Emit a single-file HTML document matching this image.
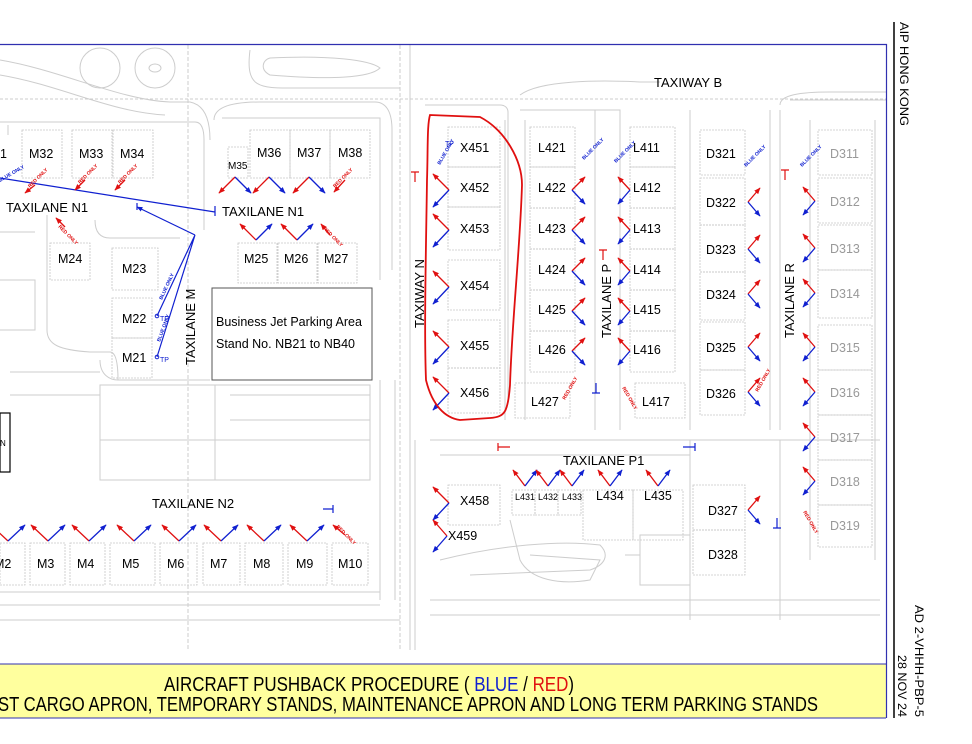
<!DOCTYPE html>
<html><head><meta charset="utf-8"><style>
html,body{margin:0;padding:0;background:#fff;}
svg{display:block;font-family:"Liberation Sans",sans-serif;}
.g{fill:none;stroke:#cdcdcd;stroke-width:1}
.s{fill:none;stroke:#c6c6c6;stroke-width:0.8;stroke-dasharray:2 1}
.t{font-size:12.5px;fill:#000}
.tg{font-size:12.5px;fill:#999}
.r{stroke:#e01010;stroke-width:1.3;marker-end:url(#ar)}
.b{stroke:#1020d0;stroke-width:1.3;marker-end:url(#ab)}
.ro{font-size:5px;fill:#e01010;font-weight:bold}
.bo{font-size:5px;fill:#1020d0;font-weight:bold}
</style></head><body>
<svg width="972" height="744" viewBox="0 0 972 744" xmlns="http://www.w3.org/2000/svg">
<defs>
<marker id="ar" viewBox="0 0 10 10" refX="9" refY="5" markerWidth="5" markerHeight="5" orient="auto"><path d="M0,1L10,5L0,9z" fill="#e01010"/></marker>
<marker id="ab" viewBox="0 0 10 10" refX="9" refY="5" markerWidth="5" markerHeight="5" orient="auto"><path d="M0,1L10,5L0,9z" fill="#1020d0"/></marker>
<clipPath id="fr"><rect x="0" y="45" width="886" height="619"/></clipPath>
</defs>

<!-- background roads -->
<g class="g" clip-path="url(#fr)">
<path d="M0,60 C60,70 120,100 170,102 L190,102 C205,105 210,120 210,140"/>
<path d="M0,75 C60,85 110,112 165,115"/>
<circle cx="100" cy="68" r="20"/><circle cx="155" cy="68" r="20"/><ellipse cx="155" cy="68" rx="6" ry="4"/>
<path d="M270,58 C330,55 370,60 380,68 C370,78 330,80 270,75 C260,70 262,60 270,58z"/>
<path d="M250,50 C245,90 260,88 300,88 L400,88"/>
<path d="M0,99 L886,99" stroke-dasharray="3 2"/>
<path d="M188,45 L188,650" stroke-dasharray="4 2"/>
<path d="M410,45 L410,650"/><path d="M400,45 L400,650" stroke-dasharray="4 2"/>
<path d="M214,120 C214,108 230,102 260,102 L375,102 C385,102 392,110 392,130 L392,270"/>
<path d="M8,125 L8,135 M0,122 L195,122 C200,122 204,126 204,140 L204,230"/>
<path d="M222,118 L380,118 L380,280"/>
<path d="M425,105 L500,105 C505,105 508,108 508,112 L508,400"/>
<path d="M505,120 L505,420"/><path d="M525,120 L525,420"/>
<path d="M520,110 L620,110 L620,430"/><path d="M595,110 L595,430"/>
<path d="M690,110 L690,430 M770,110 L770,430 M780,110 L780,430"/>
<path d="M520,95 C540,80 600,80 640,82 L660,82"/>
<path d="M780,105 C780,95 800,92 830,92 L886,92"/>
<path d="M790,100 L886,100"/>
<path d="M810,120 L810,560 M875,120 L875,560"/>
<path d="M415,440 L415,650 M430,440 L880,440"/>
<path d="M440,455 L690,455 M690,440 L690,620 M780,440 L780,620"/>
<path d="M0,592 L380,592 M0,605 L380,605 M0,620 L400,620"/>
<path d="M380,380 L380,600 M395,380 L395,600"/>
<path d="M430,600 L880,600 M430,615 L880,615"/>
<path d="M510,520 L520,560 C530,580 560,585 590,580 L600,560 L530,555"/>
<path d="M440,560 C500,545 560,540 600,545 C610,555 605,565 590,570 L470,575"/>
<path d="M640,535 L690,535 L690,585 L640,585z M625,555 L640,555"/>
<path d="M100,385 L370,385 L370,480 L100,480z M100,440 L370,440 M215,385 L215,480"/>
<path d="M10,372 L100,372 M10,395 L100,395 M100,360 C100,375 110,380 118,380 L210,380"/>
<path d="M0,280 L35,280 L35,330 L0,330 M0,232 L35,232"/>
<path d="M95,220 C95,232 100,238 110,238 L180,238"/>
<path d="M47,215 L47,330 C47,345 60,350 90,352 L110,352 C115,352 118,360 118,380"/>
<path d="M230,420 L370,420 M230,395 L370,395"/>
</g>

<!-- stand boxes -->
<g class="s">
<rect x="22" y="130" width="40" height="48"/><rect x="72" y="130" width="40" height="48"/><rect x="113" y="130" width="40" height="48"/>
<rect x="228" y="147" width="20" height="31"/><rect x="250" y="130" width="40" height="48"/><rect x="290" y="130" width="40" height="48"/><rect x="330" y="130" width="40" height="48"/>
<rect x="50" y="243" width="40" height="37"/><rect x="112" y="248" width="46" height="42"/>
<rect x="238" y="243" width="39" height="40"/><rect x="278" y="243" width="39" height="40"/><rect x="318" y="243" width="39" height="40"/>
<rect x="112" y="298" width="40" height="40"/><rect x="112" y="338" width="40" height="40"/>
<rect x="448" y="127" width="52" height="40"/><rect x="448" y="167" width="52" height="40"/><rect x="448" y="207" width="52" height="43"/><rect x="448" y="260" width="52" height="50"/><rect x="448" y="320" width="52" height="48"/><rect x="448" y="368" width="52" height="45"/>
<rect x="530" y="127" width="45" height="40"/><rect x="530" y="167" width="45" height="41"/><rect x="530" y="208" width="45" height="41"/><rect x="530" y="249" width="45" height="41"/><rect x="530" y="290" width="45" height="41"/><rect x="530" y="331" width="45" height="41"/>
<rect x="630" y="127" width="45" height="40"/><rect x="630" y="167" width="45" height="41"/><rect x="630" y="208" width="45" height="41"/><rect x="630" y="249" width="45" height="41"/><rect x="630" y="290" width="45" height="41"/><rect x="630" y="331" width="45" height="41"/>
<rect x="515" y="383" width="55" height="35"/><rect x="635" y="383" width="50" height="35"/>
<rect x="700" y="130" width="45" height="45"/><rect x="700" y="178" width="45" height="47"/><rect x="700" y="225" width="45" height="47"/><rect x="700" y="272" width="45" height="48"/><rect x="700" y="322" width="45" height="48"/><rect x="700" y="370" width="45" height="45"/>
<rect x="693" y="485" width="52" height="45"/><rect x="693" y="530" width="52" height="45"/>
<rect x="818" y="130" width="54" height="45"/><rect x="818" y="178" width="54" height="45"/><rect x="818" y="225" width="54" height="45"/><rect x="818" y="270" width="54" height="48"/><rect x="818" y="325" width="54" height="45"/><rect x="818" y="370" width="54" height="45"/><rect x="818" y="415" width="54" height="45"/><rect x="818" y="460" width="54" height="45"/><rect x="818" y="505" width="54" height="42"/>
<rect x="0" y="543" width="25" height="42"/><rect x="30" y="543" width="35" height="42"/><rect x="70" y="543" width="35" height="42"/><rect x="110" y="543" width="45" height="42"/><rect x="160" y="543" width="37" height="42"/><rect x="203" y="543" width="37" height="42"/><rect x="245" y="543" width="38" height="42"/><rect x="288" y="543" width="39" height="42"/><rect x="332" y="543" width="36" height="42"/>
<rect x="512" y="490" width="23" height="25"/><rect x="535" y="490" width="23" height="25"/><rect x="558" y="490" width="23" height="25"/><rect x="583" y="490" width="50" height="50"/><rect x="633" y="490" width="50" height="50"/>
<rect x="448" y="485" width="52" height="40"/>
</g>

<!-- business jet box -->
<rect x="212" y="288" width="160" height="92" fill="#fff" stroke="#555" stroke-width="1"/>
<rect x="0" y="413" width="10" height="59" fill="none" stroke="#000" stroke-width="1.2"/>
<text x="0" y="446" font-size="8">N</text>

<!-- blue route lines -->
<g stroke="#1020d0" stroke-width="1.2" fill="none">
<path d="M0,178 L215,212 M215,206 L215,216"/>
<path d="M195,235 L137,207" marker-end="url(#ab)"/>
<path d="M137,203 L137,210"/>
<path d="M195,235 L157,316 M195,235 L157,357"/>
</g>
<circle cx="157" cy="316" r="1.8" fill="none" stroke="#1020d0"/><circle cx="157" cy="357" r="1.8" fill="none" stroke="#1020d0"/>
<text x="160" y="321" font-size="7" fill="#1020d0">TP</text><text x="160" y="362" font-size="7" fill="#1020d0">TP</text>
<text x="445" y="146" font-size="7" fill="#1020d0">TP</text>

<!-- V arrows -->
<g>
<line x1="8" y1="541" x2="-9" y2="525" class="r"/><line x1="8" y1="541" x2="25" y2="525" class="b"/>
<line x1="48" y1="541" x2="31" y2="525" class="r"/><line x1="48" y1="541" x2="65" y2="525" class="b"/>
<line x1="89" y1="541" x2="72" y2="525" class="r"/><line x1="89" y1="541" x2="106" y2="525" class="b"/>
<line x1="134" y1="541" x2="117" y2="525" class="r"/><line x1="134" y1="541" x2="151" y2="525" class="b"/>
<line x1="179" y1="541" x2="162" y2="525" class="r"/><line x1="179" y1="541" x2="196" y2="525" class="b"/>
<line x1="221" y1="541" x2="204" y2="525" class="r"/><line x1="221" y1="541" x2="238" y2="525" class="b"/>
<line x1="264" y1="541" x2="247" y2="525" class="r"/><line x1="264" y1="541" x2="281" y2="525" class="b"/>
<line x1="307" y1="541" x2="290" y2="525" class="r"/><line x1="307" y1="541" x2="324" y2="525" class="b"/>
<line x1="345" y1="535" x2="333" y2="525" class="r"/>
<line x1="235" y1="177" x2="219" y2="193" class="r"/><line x1="235" y1="177" x2="251" y2="193" class="b"/>
<line x1="269" y1="177" x2="253" y2="193" class="r"/><line x1="269" y1="177" x2="285" y2="193" class="b"/>
<line x1="309" y1="177" x2="293" y2="193" class="r"/><line x1="309" y1="177" x2="325" y2="193" class="b"/>
<line x1="345" y1="180" x2="334" y2="192" class="r"/>
<line x1="256" y1="240" x2="240" y2="224" class="r"/><line x1="256" y1="240" x2="272" y2="224" class="b"/>
<line x1="297" y1="240" x2="281" y2="224" class="r"/><line x1="297" y1="240" x2="313" y2="224" class="b"/>
<line x1="330" y1="235" x2="321" y2="224" class="r"/>
<line x1="35" y1="185" x2="25" y2="193" class="r"/><line x1="85" y1="180" x2="75" y2="190" class="r"/><line x1="125" y1="180" x2="115" y2="190" class="r"/>
<line x1="65" y1="227" x2="56" y2="218" class="r"/>
<line x1="449" y1="190" x2="433" y2="174" class="r"/><line x1="449" y1="190" x2="433" y2="207" class="b"/>
<line x1="449" y1="230" x2="433" y2="214" class="r"/><line x1="449" y1="230" x2="433" y2="247" class="b"/>
<line x1="449" y1="287" x2="433" y2="271" class="r"/><line x1="449" y1="287" x2="433" y2="304" class="b"/>
<line x1="449" y1="347" x2="433" y2="331" class="r"/><line x1="449" y1="347" x2="433" y2="364" class="b"/>
<line x1="449" y1="393" x2="433" y2="377" class="r"/><line x1="449" y1="393" x2="433" y2="410" class="b"/>
<line x1="449" y1="503" x2="433" y2="487" class="r"/><line x1="449" y1="503" x2="433" y2="520" class="b"/>
<line x1="447" y1="536" x2="433" y2="520" class="r"/><line x1="447" y1="536" x2="433" y2="552" class="b"/>
<line x1="572" y1="190" x2="585" y2="177" class="r"/><line x1="572" y1="190" x2="585" y2="204" class="b"/>
<line x1="572" y1="230" x2="585" y2="217" class="r"/><line x1="572" y1="230" x2="585" y2="244" class="b"/>
<line x1="572" y1="271" x2="585" y2="258" class="r"/><line x1="572" y1="271" x2="585" y2="285" class="b"/>
<line x1="572" y1="311" x2="585" y2="298" class="r"/><line x1="572" y1="311" x2="585" y2="325" class="b"/>
<line x1="572" y1="351" x2="585" y2="338" class="r"/><line x1="572" y1="351" x2="585" y2="365" class="b"/>
<line x1="630" y1="190" x2="618" y2="177" class="r"/><line x1="630" y1="190" x2="618" y2="204" class="b"/>
<line x1="630" y1="230" x2="618" y2="217" class="r"/><line x1="630" y1="230" x2="618" y2="244" class="b"/>
<line x1="630" y1="271" x2="618" y2="258" class="r"/><line x1="630" y1="271" x2="618" y2="285" class="b"/>
<line x1="630" y1="311" x2="618" y2="298" class="r"/><line x1="630" y1="311" x2="618" y2="325" class="b"/>
<line x1="630" y1="351" x2="618" y2="338" class="r"/><line x1="630" y1="351" x2="618" y2="365" class="b"/>
<line x1="748" y1="202" x2="760" y2="188" class="r"/><line x1="748" y1="202" x2="760" y2="216" class="b"/>
<line x1="748" y1="249" x2="760" y2="235" class="r"/><line x1="748" y1="249" x2="760" y2="263" class="b"/>
<line x1="748" y1="294" x2="760" y2="280" class="r"/><line x1="748" y1="294" x2="760" y2="308" class="b"/>
<line x1="748" y1="347" x2="760" y2="333" class="r"/><line x1="748" y1="347" x2="760" y2="361" class="b"/>
<line x1="748" y1="392" x2="760" y2="378" class="r"/><line x1="748" y1="392" x2="760" y2="406" class="b"/>
<line x1="748" y1="510" x2="760" y2="496" class="r"/><line x1="748" y1="510" x2="760" y2="524" class="b"/>
<line x1="815" y1="201" x2="803" y2="187" class="r"/><line x1="815" y1="201" x2="803" y2="215" class="b"/>
<line x1="815" y1="248" x2="803" y2="234" class="r"/><line x1="815" y1="248" x2="803" y2="262" class="b"/>
<line x1="815" y1="293" x2="803" y2="279" class="r"/><line x1="815" y1="293" x2="803" y2="307" class="b"/>
<line x1="815" y1="347" x2="803" y2="333" class="r"/><line x1="815" y1="347" x2="803" y2="361" class="b"/>
<line x1="815" y1="392" x2="803" y2="378" class="r"/><line x1="815" y1="392" x2="803" y2="406" class="b"/>
<line x1="815" y1="437" x2="803" y2="423" class="r"/><line x1="815" y1="437" x2="803" y2="451" class="b"/>
<line x1="815" y1="481" x2="803" y2="467" class="r"/><line x1="815" y1="481" x2="803" y2="495" class="b"/>
<line x1="525" y1="486" x2="513" y2="470" class="r"/><line x1="525" y1="486" x2="537" y2="470" class="b"/>
<line x1="548" y1="486" x2="536" y2="470" class="r"/><line x1="548" y1="486" x2="560" y2="470" class="b"/>
<line x1="572" y1="486" x2="560" y2="470" class="r"/><line x1="572" y1="486" x2="584" y2="470" class="b"/>
<line x1="610" y1="486" x2="598" y2="470" class="r"/><line x1="610" y1="486" x2="622" y2="470" class="b"/>
<line x1="658" y1="486" x2="646" y2="470" class="r"/><line x1="658" y1="486" x2="670" y2="470" class="b"/>
</g>

<g>
<text transform="translate(30,188) rotate(-45)" class="ro">RED ONLY</text>
<text transform="translate(80,184) rotate(-45)" class="ro">RED ONLY</text>
<text transform="translate(120,184) rotate(-45)" class="ro">RED ONLY</text>
<text transform="translate(58,227) rotate(45)" class="ro">RED ONLY</text>
<text transform="translate(335,188) rotate(-45)" class="ro">RED ONLY</text>
<text transform="translate(323,229) rotate(45)" class="ro">RED ONLY</text>
<text transform="translate(336,527) rotate(45)" class="ro">RED ONLY</text>
<text transform="translate(565,400) rotate(-60)" class="ro">RED ONLY</text>
<text transform="translate(622,388) rotate(60)" class="ro">RED ONLY</text>
<text transform="translate(758,392) rotate(-60)" class="ro">RED ONLY</text>
<text transform="translate(803,512) rotate(60)" class="ro">RED ONLY</text>
<text transform="translate(0,182) rotate(-30)" class="bo">BLUE ONLY</text>
<text transform="translate(440,165) rotate(-60)" class="bo">BLUE ONLY</text>
<text transform="translate(584,160) rotate(-45)" class="bo">BLUE ONLY</text>
<text transform="translate(616,163) rotate(-45)" class="bo">BLUE ONLY</text>
<text transform="translate(746,167) rotate(-45)" class="bo">BLUE ONLY</text>
<text transform="translate(802,167) rotate(-45)" class="bo">BLUE ONLY</text>
<text transform="translate(162,300) rotate(-65)" class="bo">BLUE ONLY</text>
<text transform="translate(160,342) rotate(-70)" class="bo">BLUE ONLY</text>
</g>

<g stroke-width="1.2">
<path d="M415,172 L415,182 M411,172 L419,172" stroke="#e01010"/>
<path d="M785,170 L785,180 M781,170 L789,170" stroke="#e01010"/>
<path d="M603,250 L603,260 M599,250 L607,250" stroke="#e01010"/>
<path d="M596,383 L596,393 M592,393 L600,393" stroke="#1020d0"/>
<path d="M498,447 L510,447 M498,443 L498,451" stroke="#e01010"/>
<path d="M683,447 L695,447 M695,443 L695,451" stroke="#1020d0"/>
<path d="M777,518 L777,528 M773,528 L781,528" stroke="#1020d0"/>
<path d="M323,509 L333,509 M333,505 L333,513" stroke="#1020d0"/>
</g>

<path d="M430,115 L480,117 C505,130 522,160 522,185 C520,250 512,320 510,385 C508,412 505,417 490,418 L460,420 C445,418 432,405 426,380 C424,330 426,250 427,180 C428,150 427,125 430,115z" fill="none" stroke="#e01010" stroke-width="1.8"/>

<g class="t">
<text x="654" y="87" font-size="13">TAXIWAY B</text>
<text x="-7" y="158">31</text>
<text x="29" y="158">M32</text><text x="79" y="158">M33</text><text x="120" y="158">M34</text>
<text x="228" y="169" font-size="10">M35</text>
<text x="257" y="157">M36</text><text x="297" y="157">M37</text><text x="338" y="157">M38</text>
<text x="6" y="212" font-size="13">TAXILANE N1</text>
<text x="222" y="216" font-size="13">TAXILANE N1</text>
<text x="58" y="263">M24</text><text x="122" y="273">M23</text>
<text x="244" y="263">M25</text><text x="284" y="263">M26</text><text x="324" y="263">M27</text>
<text x="122" y="323">M22</text><text x="122" y="362">M21</text>
<text transform="translate(195,365) rotate(-90)" font-size="13">TAXILANE M</text>
<text x="216" y="326" font-size="12.5">Business Jet Parking Area</text>
<text x="216" y="348" font-size="12.5">Stand No. NB21 to NB40</text>
<text transform="translate(424,328) rotate(-90)" font-size="13">TAXIWAY N</text>
<text x="460" y="152">X451</text><text x="460" y="192">X452</text><text x="460" y="233">X453</text><text x="460" y="290">X454</text><text x="460" y="350">X455</text><text x="460" y="397">X456</text>
<text x="538" y="152">L421</text><text x="538" y="192">L422</text><text x="538" y="233">L423</text><text x="538" y="274">L424</text><text x="538" y="314">L425</text><text x="538" y="354">L426</text><text x="531" y="406">L427</text>
<text transform="translate(611,338) rotate(-90)" font-size="13">TAXILANE P</text>
<text x="633" y="152">L411</text><text x="633" y="192">L412</text><text x="633" y="233">L413</text><text x="633" y="274">L414</text><text x="633" y="314">L415</text><text x="633" y="354">L416</text><text x="642" y="406">L417</text>
<text x="706" y="158">D321</text><text x="706" y="207">D322</text><text x="706" y="254">D323</text><text x="706" y="299">D324</text><text x="706" y="352">D325</text><text x="706" y="398">D326</text>
<text transform="translate(794,338) rotate(-90)" font-size="13">TAXILANE R</text>
<text x="563" y="465" font-size="13">TAXILANE P1</text>
<text x="460" y="505">X458</text><text x="448" y="540">X459</text>
<text x="515" y="500" font-size="9">L431</text><text x="538" y="500" font-size="9">L432</text><text x="562" y="500" font-size="9">L433</text>
<text x="596" y="500">L434</text><text x="644" y="500">L435</text>
<text x="708" y="515">D327</text><text x="708" y="559">D328</text>
<text x="152" y="508" font-size="13">TAXILANE N2</text>
<text x="-6" y="568">M2</text><text x="37" y="568">M3</text><text x="77" y="568">M4</text><text x="122" y="568">M5</text><text x="167" y="568">M6</text><text x="210" y="568">M7</text><text x="253" y="568">M8</text><text x="296" y="568">M9</text><text x="338" y="568">M10</text>
</g>
<g class="tg">
<text x="830" y="158">D311</text><text x="830" y="206">D312</text><text x="830" y="253">D313</text><text x="830" y="298">D314</text><text x="830" y="352">D315</text><text x="830" y="397">D316</text><text x="830" y="442">D317</text><text x="830" y="486">D318</text><text x="830" y="530">D319</text>
</g>

<rect x="0" y="664" width="886" height="54" fill="#ffff9e"/>
<line x1="0" y1="664" x2="886" y2="664" stroke="#3030b0" stroke-width="1"/>
<line x1="0" y1="718" x2="886" y2="718" stroke="#3030b0" stroke-width="1"/>
<path d="M0,44.5 L886.5,44.5 L886.5,718" fill="none" stroke="#3030b0" stroke-width="1.2"/>
<line x1="894" y1="22" x2="894" y2="718" stroke="#000" stroke-width="1.5"/>
<text x="164" y="691" font-size="20" textLength="410" lengthAdjust="spacingAndGlyphs">AIRCRAFT PUSHBACK PROCEDURE ( <tspan fill="#1020d0">BLUE</tspan> / <tspan fill="#e01010">RED</tspan>)</text>
<text x="-2" y="711" font-size="20" textLength="820" lengthAdjust="spacingAndGlyphs">ST CARGO APRON, TEMPORARY STANDS, MAINTENANCE APRON AND LONG TERM PARKING STANDS</text>
<text transform="translate(900,22) rotate(90)" font-size="12" textLength="104" lengthAdjust="spacingAndGlyphs">AIP HONG KONG</text>
<text transform="translate(915,605) rotate(90)" font-size="12" textLength="112" lengthAdjust="spacingAndGlyphs">AD 2-VHHH-PBP-5</text>
<text transform="translate(898,655) rotate(90)" font-size="12" textLength="62" lengthAdjust="spacingAndGlyphs">28 NOV 24</text>
</svg>
</body></html>
